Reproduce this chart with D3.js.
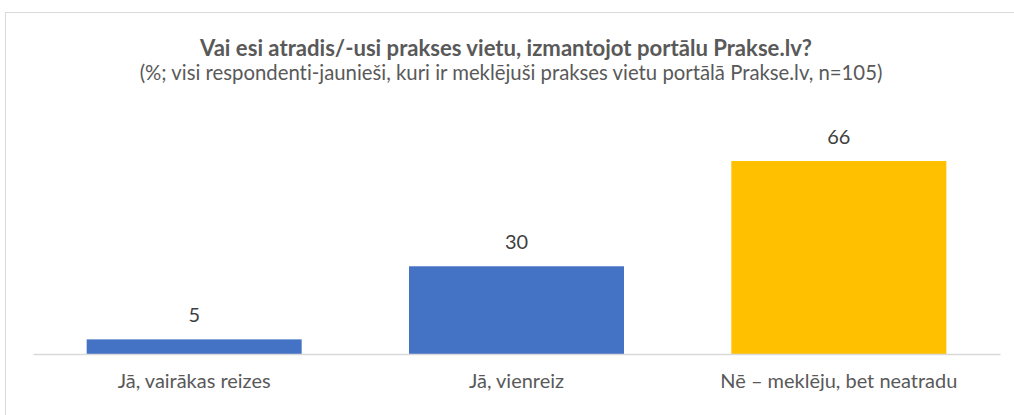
<!DOCTYPE html>
<html>
<head>
<meta charset="utf-8">
<script src="https://cdn.jsdelivr.net/npm/d3@7"></script>
<style>
html,body{margin:0;padding:0;background:#fff;}
svg{display:block;font-family:Lato, "Noto Sans", sans-serif;font-variant-ligatures:none;font-feature-settings:"liga" 0;}
</style>
</head>
<body>
<svg id="chart" width="1014" height="415"></svg>
<script>
const titleText = "Vai esi atradis/-usi prakses vietu, izmantojot portālu Prakse.lv?";
const subtitleText = "(%; visi respondenti-jaunieši, kuri ir meklējuši prakses vietu portālā Prakse.lv, n=105)";
const categories = ["Jā, vairākas reizes", "Jā, vienreiz", "Nē – meklēju, bet neatradu"];
const values = [5, 30, 66];
const colors = ["#4472C4", "#4472C4", "#FFC000"];

const svg = d3.select("#chart");
const W = 1014, H = 415;

// chart border
svg.append("rect")
  .attr("x", 5.5).attr("y", 12.5)
  .attr("width", W + 10).attr("height", H + 10)
  .attr("fill", "#fff").attr("stroke", "#d9d9d9").attr("stroke-width", 1);

const plot = {left: 33, right: 1000, top: 100, bottom: 354};

const x = d3.scaleBand()
  .domain(categories)
  .range([plot.left, plot.right])
  .paddingInner(0.333)
  .paddingOuter(0.1665);

const y = d3.scaleLinear()
  .domain([0, 66])
  .range([plot.bottom, 161]);

function fitText(sel, target) {
  const len = sel.node().getComputedTextLength();
  const fs = parseFloat(sel.attr("font-size"));
  const nfs = fs * target / len;
  sel.attr("font-size", nfs.toFixed(2));
  return nfs;
}
const t = svg.append("text")
  .attr("x", 506).attr("y", 56)
  .attr("text-anchor", "middle")
  .attr("font-size", 18).attr("font-weight", "bold")
  .attr("fill", "#595959")
  .text(titleText);
fitText(t, 612);

const st = svg.append("text")
  .attr("x", 511).attr("y", 80)
  .attr("text-anchor", "middle")
  .attr("font-size", 15)
  .attr("fill", "#595959")
  .text(subtitleText);
fitText(st, 743);

// bars
svg.append("g").selectAll("rect")
  .data(values)
  .join("rect")
  .attr("x", (d, i) => x(categories[i]))
  .attr("width", x.bandwidth())
  .attr("y", d => y(d))
  .attr("height", d => y(0) - y(d))
  .attr("fill", (d, i) => colors[i]);

// axis
const axis = svg.append("g")
  .attr("transform", `translate(0,${plot.bottom})`)
  .call(d3.axisBottom(x).tickSize(0).tickPadding(34));
axis.select(".domain").attr("stroke", "#d9d9d9").attr("stroke-width", 1.5);
const labels = axis.selectAll("text")
  .attr("font-size", 18)
  .attr("dy", "0")
  .attr("fill", "#595959")
  .style("font-family", "Lato, 'Noto Sans', sans-serif");
const first = d3.select(labels.nodes()[0]);
const fs = fitText(first, 153);
labels.attr("font-size", fs.toFixed(2));

// value labels
svg.append("g").selectAll("text")
  .data(values)
  .join("text")
  .attr("x", (d, i) => x(categories[i]) + x.bandwidth() / 2)
  .attr("y", d => y(d) - 17.5)
  .attr("text-anchor", "middle")
  .attr("font-size", fs.toFixed(2))
  .attr("fill", "#404040")
  .text(d => d);
</script>
</body>
</html>
